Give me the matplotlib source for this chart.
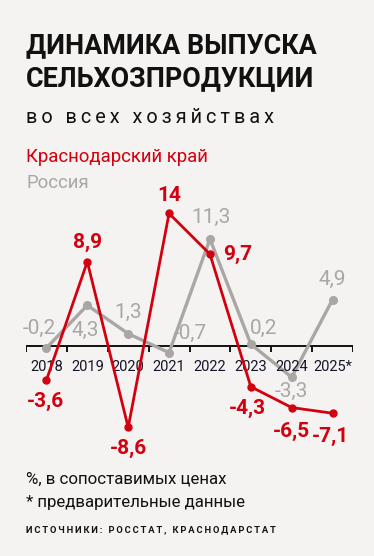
import matplotlib
matplotlib.use("Agg")
import matplotlib.pyplot as plt

# data
years = ["2018", "2019", "2020", "2021", "2022", "2023", "2024", "2025*"]
krasnodar = [-3.6, 8.9, -8.6, 14, 9.7, -4.3, -6.5, -7.1]
russia = [-0.2, 4.3, 1.3, -0.7, 11.3, 0.2, -3.3, 4.9]

# label offsets in pixels (dx, dy)
red_offsets = [(-1, -21), (0, 19), (0, -21), (0, 18), (28, 0), (-3, -22), (0, -24), (-2, -23)]
gray_offsets = [(-7, 20), (-2, -25), (0, 21), (21, 19), (1, 22), (13, 16), (0, -14), (0, 20)]

RED = "#d3000f"
GRAY = "#aaa6a3"
BG = "#f5f3f1"
DARK = "#111111"
FONT = ["Roboto", "DejaVu Sans"]

W, H = 374, 556
fig = plt.figure(figsize=(W / 100, H / 100), dpi=100, facecolor=BG)
renderer = fig.canvas.get_renderer()


def fx(px):
    return px / W


def fy(py):
    return 1 - py / H


def spaced(s):
    return "\u2009".join(s)


# put text at (x, baseline) and shrink/grow it to the reference's width
def fit_text(px, py, s, width_px, **kw):
    t = fig.text(fx(px), fy(py), s, family=FONT, va="baseline", fontsize=20, **kw)
    w = t.get_window_extent(renderer).width
    t.set_fontsize(20 * width_px / w)
    return t


# header
t1 = fit_text(26, 53, "ДИНАМИКА ВЫПУСКА", 290, weight="bold", color=DARK)
fig.text(fx(26), fy(86), "СЕЛЬХОЗПРОДУКЦИИ", family=FONT, va="baseline",
         fontsize=t1.get_fontsize(), weight="bold", color=DARK)
fit_text(26, 123, spaced("во всех хозяйствах"), 248, color=DARK)
t2 = fit_text(26, 162, "Краснодарский край", 183, color=RED)
fig.text(fx(26), fy(188), "Россия", family=FONT, va="baseline",
         fontsize=t2.get_fontsize(), color=GRAY)

# footer
t3 = fit_text(26, 484, "%, в сопоставимых ценах", 201, color=DARK)
fig.text(fx(26), fy(507), "* предварительные данные", family=FONT, va="baseline",
         fontsize=t3.get_fontsize(), color=DARK)
fit_text(26, 532, spaced("ИСТОЧНИКИ: РОССТАТ, КРАСНОДАРСТАТ"), 252,
         weight="bold", color=DARK)

# chart area: zero at pixel 346, 9.47 px per unit
top_px, bot_px, zero_px, scale = 180, 460, 346, 9.47
ax = fig.add_axes([fx(26), fy(bot_px), (353 - 26) / W, (bot_px - top_px) / H])
ax.set_facecolor("none")
ax.set_xlim(-0.5, len(years) - 0.5)
ax.set_ylim(-(bot_px - zero_px) / scale, (zero_px - top_px) / scale)
ax.axis("off")

x = list(range(len(years)))

# axis line with ticks
ax.axhline(0, color=DARK, lw=1.4, zorder=1)
for b in [i - 0.5 for i in range(len(years) + 1)]:
    ax.plot([b, b], [0, -6 / scale], color=DARK, lw=1.4, zorder=1, solid_capstyle="butt")
for i, yr in enumerate(years):
    ax.annotate(yr, (i, 0), xytext=(0, -21), textcoords="offset pixels",
                ha="center", va="center", family=FONT, fontsize=10.5, color="#15152a")

ax.plot(x, russia, color=GRAY, lw=2.4, marker="o", ms=5.5, zorder=2)
ax.plot(x, krasnodar, color=RED, lw=2, marker="o", ms=5, zorder=3)


def fmt(v):
    return ("%g" % v).replace(".", ",")


for i, v in enumerate(russia):
    dx, dy = gray_offsets[i]
    ax.annotate(fmt(v), (i, v), xytext=(dx, dy), textcoords="offset pixels",
                ha="center", va="center", family=FONT, fontsize=15, color=GRAY)
for i, v in enumerate(krasnodar):
    dx, dy = red_offsets[i]
    ax.annotate(fmt(v), (i, v), xytext=(dx, dy), textcoords="offset pixels",
                ha="center", va="center", family=FONT, fontsize=15, color=RED,
                weight="bold")

fig.savefig("out.png", dpi=100, facecolor=BG)
